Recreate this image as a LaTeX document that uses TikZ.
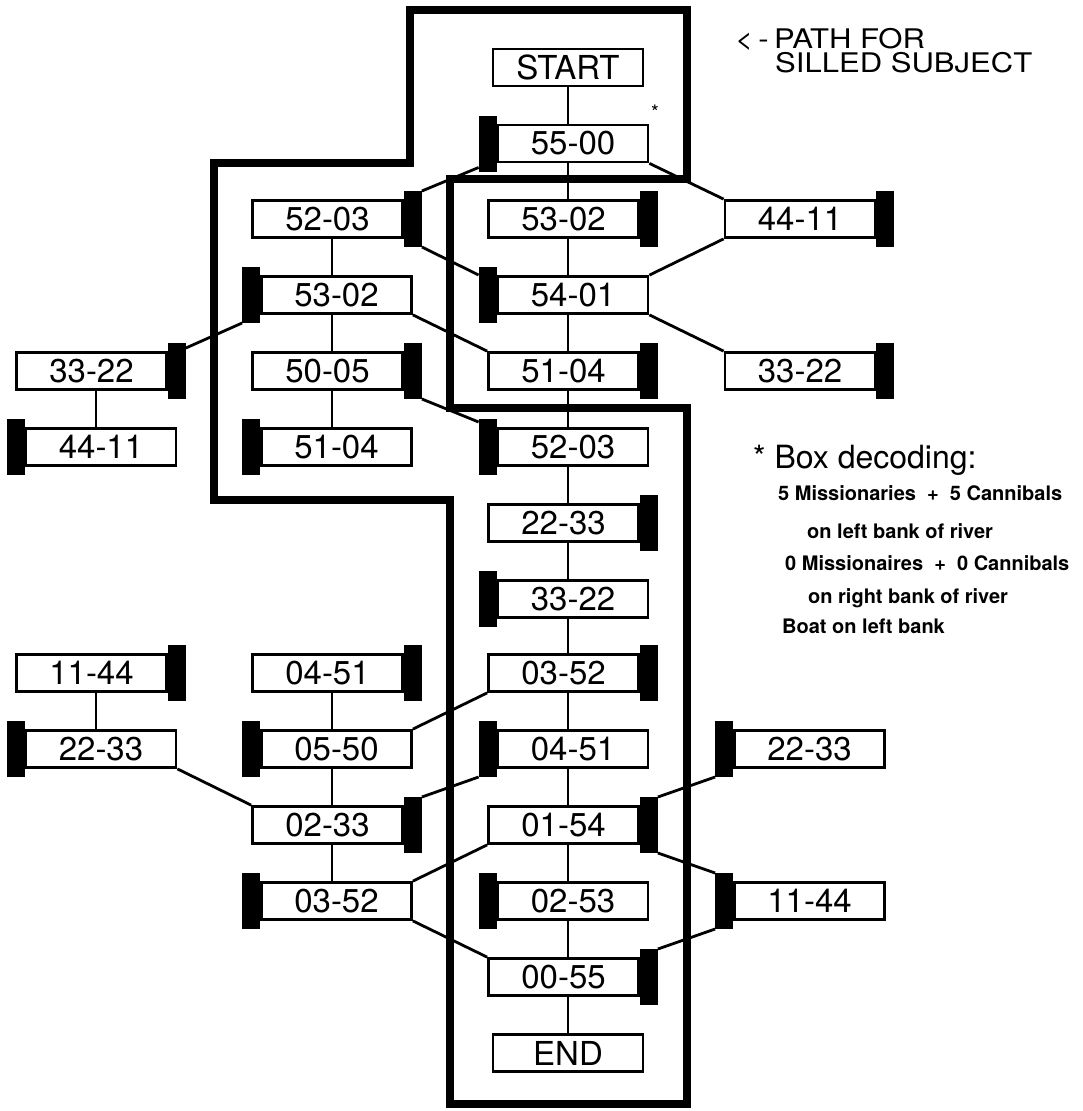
\documentclass[tikz,border=0pt]{standalone}
\usepackage{fontspec}
\setmainfont{TeX Gyre Heros}
\usetikzlibrary{calc}
\tikzset{
  box/.style={draw, line width=2.8pt, minimum width=150pt, minimum height=37pt, inner sep=0pt, font=\fontsize{33}{33}\selectfont},
  boat/.style={fill=black, draw=none, minimum width=18pt, minimum height=56pt, inner sep=0pt, outer sep=0pt},
  boatR/.style={boat, anchor=west},
  boatL/.style={boat, anchor=east},
  link/.style={line width=2.8pt},
  route/.style={line width=8.5pt, line join=miter},
  note/.style={anchor=base west, inner sep=0pt},
}
\begin{document}
\begin{tikzpicture}[x=1pt,y=1pt]
\useasboundingbox (0,0) rectangle (1082,-1111);
% column coordinates for vertical links
\coordinate (colC) at (568,0);
\coordinate (colL) at (332,0);
\coordinate (colF) at (96,0);

% thick outline (path for skilled subject)
\draw[route] (410,-10) -- (687,-10) -- (687,-179) -- (450,-179) -- (450,-408) -- (687,-408)
  -- (687,-1104) -- (450,-1104) -- (450,-500) -- (214,-500) -- (214,-163) -- (410,-163) -- cycle;

% boxes
\node[box] (start) at (568,-67.5) {START};
\node[box] (s5500) at (573,-143.5) {55-00}; \node[boatL] (b5500) at (s5500.west) {};
% row 2
\node[box] (L5203) at (327.5,-219) {52-03}; \node[boatR] (bL5203) at (L5203.east) {};
\node[box] (C5302) at (563.5,-219) {53-02}; \node[boatR] (bC5302) at (C5302.east) {};
\node[box] (R4411) at (800,-219) {44-11}; \node[boatR] (bR4411) at (R4411.east) {};
% row 3
\node[box] (L5302) at (336.5,-295) {53-02}; \node[boatL] (bL5302) at (L5302.west) {};
\node[box] (C5401) at (573,-295) {54-01}; \node[boatL] (bC5401) at (C5401.west) {};
% row 4
\node[box] (F3322) at (91.5,-371) {33-22}; \node[boatR] (bF3322) at (F3322.east) {};
\node[box] (L5005) at (327.5,-371) {50-05}; \node[boatR] (bL5005) at (L5005.east) {};
\node[box] (C5104) at (563.5,-371) {51-04}; \node[boatR] (bC5104) at (C5104.east) {};
\node[box] (R3322) at (800,-371) {33-22}; \node[boatR] (bR3322) at (R3322.east) {};
% row 5
\node[box] (F4411) at (101,-447) {44-11}; \node[boatL] (bF4411) at (F4411.west) {};
\node[box] (L5104) at (336.5,-447) {51-04}; \node[boatL] (bL5104) at (L5104.west) {};
\node[box] (C5203) at (573,-447) {52-03}; \node[boatL] (bC5203) at (C5203.west) {};
% row 6, 7
\node[box] (C2233) at (563.5,-523) {22-33}; \node[boatR] (bC2233) at (C2233.east) {};
\node[box] (C3322) at (573,-599) {33-22}; \node[boatL] (bC3322) at (C3322.west) {};
% row 8
\node[box] (F1144) at (91.5,-673) {11-44}; \node[boatR] (bF1144) at (F1144.east) {};
\node[box] (L0451) at (327.5,-673) {04-51}; \node[boatR] (bL0451) at (L0451.east) {};
\node[box] (C0352) at (563.5,-673) {03-52}; \node[boatR] (bC0352) at (C0352.east) {};
% row 9
\node[box] (F2233) at (101,-749) {22-33}; \node[boatL] (bF2233) at (F2233.west) {};
\node[box] (L0550) at (336.5,-749) {05-50}; \node[boatL] (bL0550) at (L0550.west) {};
\node[box] (C0451) at (573,-749) {04-51}; \node[boatL] (bC0451) at (C0451.west) {};
\node[box] (R2233) at (809.5,-749) {22-33}; \node[boatL] (bR2233) at (R2233.west) {};
% row 10
\node[box] (L0233) at (327.5,-825) {02-33}; \node[boatR] (bL0233) at (L0233.east) {};
\node[box] (C0154) at (563.5,-825) {01-54}; \node[boatR] (bC0154) at (C0154.east) {};
% row 11
\node[box] (L0352) at (336.5,-901) {03-52}; \node[boatL] (bL0352) at (L0352.west) {};
\node[box] (C0253) at (573,-901) {02-53}; \node[boatL] (bC0253) at (C0253.west) {};
\node[box] (R1144) at (809.5,-901) {11-44}; \node[boatL] (bR1144) at (R1144.west) {};
% row 12, 13
\node[box] (C0055) at (563.5,-977) {00-55}; \node[boatR] (bC0055) at (C0055.east) {};
\node[box] (finish) at (568,-1053) {END};

% vertical links
\foreach \a/\b in {start/s5500, s5500/C5302, C5302/C5401, C5401/C5104, C5104/C5203, C5203/C2233,
  C2233/C3322, C3322/C0352, C0352/C0451, C0451/C0154, C0154/C0253, C0253/C0055, C0055/finish}
  \draw[link] (\a.south -| colC) -- (\b.north -| colC);
\foreach \a/\b in {L5203/L5302, L5302/L5005, L5005/L5104, L0451/L0550, L0550/L0233, L0233/L0352}
  \draw[link] (\a.south -| colL) -- (\b.north -| colL);
\foreach \a/\b in {F3322/F4411, F1144/F2233}
  \draw[link] (\a.south -| colF) -- (\b.north -| colF);

% diagonal links
\draw[link] (bL5203.north east) -- ([yshift=4pt]b5500.south west);
\draw[link] (s5500.south east) -- (R4411.north west);
\draw[link] (bL5203.south east) -- ([yshift=-8pt]bC5401.north west);
\draw[link] (C5401.north east) -- (R4411.south west);
\draw[link] (C5401.south east) -- (R3322.north west);
\draw[link] (bL5302.south west) -- ([yshift=-5pt]bF3322.north east);
\draw[link] (L5302.south east) -- (C5104.north west);
\draw[link] (bL5005.south east) -- ([yshift=-3pt]bC5203.north west);
\draw[link] (F2233.south east) -- (L0233.north west);
\draw[link] (L0550.north east) -- (C0352.south west);
\draw[link] (bL0233.north east) -- (bC0451.south west);
\draw[link] (L0352.north east) -- (C0154.south west);
\draw[link] (L0352.south east) -- (C0055.north west);
\draw[link] (bC0154.north east) -- (bR2233.south west);
\draw[link] (bC0154.south east) -- (bR1144.north west);
\draw[link] (bC0055.north east) -- (bR1144.south west);

% annotations
\node[font=\fontsize{20}{20}\selectfont] (star) at (655,-112) {*};
\node[note, font=\fontsize{27}{27}\selectfont] (pathA) at (735,-48) {\scalebox{1.15}[1]{<\,-\,PATH FOR}};
\node[note, font=\fontsize{27}{27}\selectfont] (pathB) at (775,-72) {\scalebox{1.15}[1]{SILLED SUBJECT}};
\node[note, font=\fontsize{32}{32}\selectfont] (dec) at (753,-468) {* Box decoding:};
\node[note, font=\bfseries\fontsize{20}{20}\selectfont] (d1) at (778,-500) {5 Missionaries \ + \ 5 Cannibals};
\node[note, font=\bfseries\fontsize{20}{20}\selectfont] (d2) at (807,-538) {on left bank of river};
\node[note, font=\bfseries\fontsize{20}{20}\selectfont] (d3) at (785,-570) {0 Missionaires \ + \ 0 Cannibals};
\node[note, font=\bfseries\fontsize{20}{20}\selectfont] (d4) at (808,-603) {on right bank of river};
\node[note, font=\bfseries\fontsize{20}{20}\selectfont] (d5) at (782,-633) {Boat on left bank};
\end{tikzpicture}
\end{document}
